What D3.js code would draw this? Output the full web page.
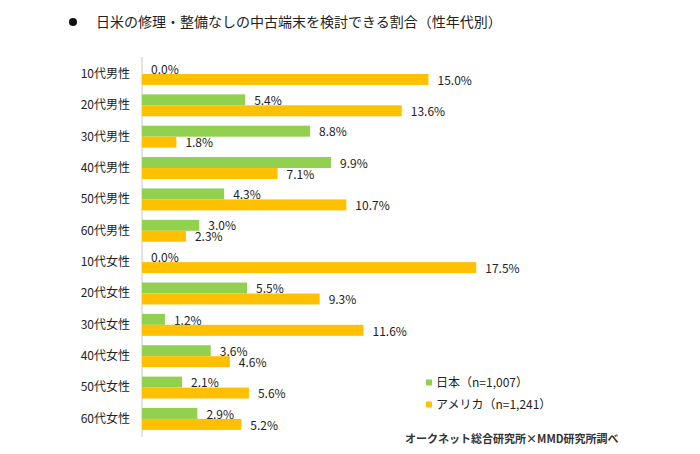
<!DOCTYPE html>
<html><head><meta charset="utf-8">
<script src="https://cdn.jsdelivr.net/npm/d3@7"></script>
<style>body{margin:0;background:#fff;} svg{display:block;}</style>
</head><body>
<svg id="c" width="700" height="454"></svg>
<script>
const categories = ["10代男性","20代男性","30代男性","40代男性","50代男性","60代男性","10代女性","20代女性","30代女性","40代女性","50代女性","60代女性"];
const japan = [0.0,5.4,8.8,9.9,4.3,3.0,0.0,5.5,1.2,3.6,2.1,2.9];
const usa = [15.0,13.6,1.8,7.1,10.7,2.3,17.5,9.3,11.6,4.6,5.6,5.2];
const seriesNames = ["日本（n=1,007）","アメリカ（n=1,241）"];
const colors = ["#92d050","#ffc000"];
const title = "日米の修理・整備なしの中古端末を検討できる割合（性年代別）";
const source = "オークネット総合研究所×MMD研究所調べ";

const font = "'Noto Sans CJK JP','Noto Sans',sans-serif";
const svg = d3.select("#c");

const x = d3.scaleLinear().domain([0,20]).range([142,524]);
const y = d3.scaleBand().domain(categories).range([58.3,434.6]).paddingInner(0.3).paddingOuter(0.15);
const bh = y.bandwidth()/2;

// title
svg.append("circle").attr("cx",73).attr("cy",22).attr("r",4).attr("fill","#111");
svg.append("text").attr("x",96).attr("y",27).attr("font-family",font).attr("font-size",14)
  .attr("fill","#222").text(title);

// axis line
svg.append("line").attr("x1",x(0)).attr("x2",x(0)).attr("y1",57).attr("y2",437)
  .attr("stroke","#c8c8c8").attr("stroke-width",1);

// category labels
const yAxis = d3.axisLeft(y).tickSize(0).tickPadding(12);
const ga = svg.append("g").attr("transform",`translate(${x(0)},0)`).call(yAxis);
ga.select(".domain").remove();
ga.selectAll("text").attr("font-family",font).attr("font-size",12).attr("fill","#222");

const series = [japan, usa];
series.forEach((vals, si) => {
  const g = svg.append("g");
  g.selectAll("rect").data(vals).join("rect")
    .attr("x",x(0)).attr("y",(d,i)=>y(categories[i])+si*bh)
    .attr("width",d=>x(d)-x(0)).attr("height",bh).attr("fill",colors[si]);
  g.selectAll("text").data(vals).join("text")
    .attr("x",d=>x(d)+9).attr("y",(d,i)=>y(categories[i])+si*bh+bh/2+1)
    .attr("dy","0.35em").attr("font-family",font).attr("font-size",12).attr("fill","#222")
    .text(d=>d.toFixed(1)+"%");
});

// legend
seriesNames.forEach((n,i)=>{
  const ly = 382.5 + i*22;
  svg.append("rect").attr("x",426).attr("y",ly-3).attr("width",6).attr("height",6).attr("fill",colors[i]);
  svg.append("text").attr("x",436).attr("y",ly).attr("dy","0.35em").attr("font-family",font)
    .attr("font-size",12).attr("fill","#222").text(n);
});

svg.append("text").attr("x",405).attr("y",439).attr("dy","0.35em").attr("font-family",font)
  .attr("font-size",11).attr("font-weight","bold").attr("fill","#333").text(source);
</script>
</body></html>
